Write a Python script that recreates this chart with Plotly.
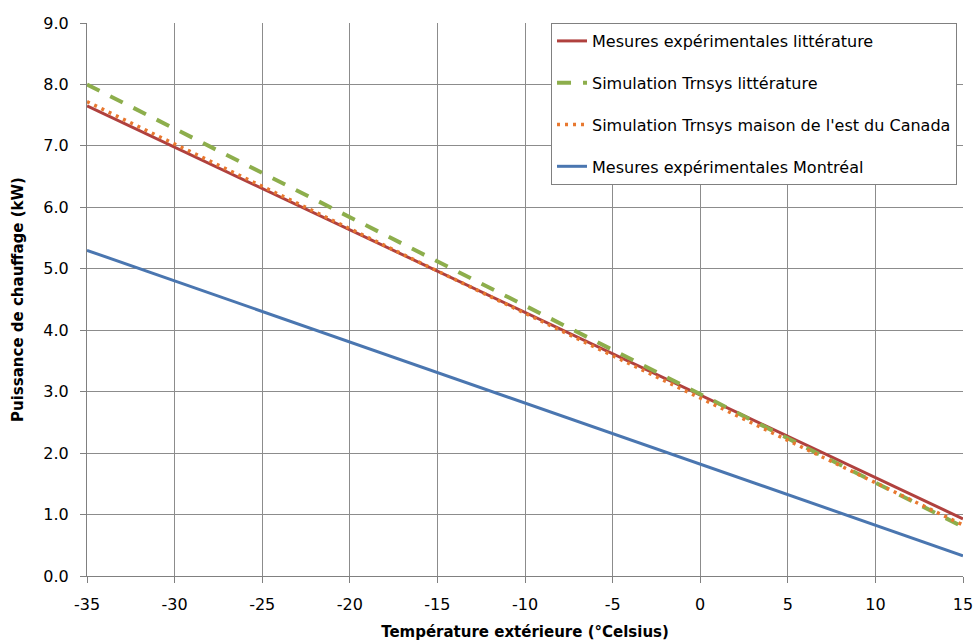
import plotly.graph_objects as go

temps = [-35, 15]
mesures_litt = [7.65, 0.93]
simul_litt = [8.0, 0.80]
simul_canada = [7.72, 0.83]
mesures_mtl = [5.30, 0.33]

names = [
    "Mesures expérimentales littérature",
    "Simulation Trnsys littérature",
    "Simulation Trnsys maison de l'est du Canada",
    "Mesures expérimentales Montréal",
]
colors = ["#B0413E", "#8DAE4C", "#E8782F", "#4A76B0"]
dashes = ["solid", "14px,12px", "3px,5px", "solid"]
widths = [3, 4, 3.5, 3]
series = [mesures_litt, simul_litt, simul_canada, mesures_mtl]

fig = go.Figure()
for i, (n, c, d, w, s) in enumerate(zip(names, colors, dashes, widths, series)):
    fig.add_trace(go.Scatter(
        x=temps, y=s, mode="lines", name=n, legendgroup=f"g{i}",
        line=dict(color=c, width=w, dash=d),
    ))

font_fam = "DejaVu Sans, Verdana, sans-serif"
fig.update_layout(
    width=977, height=641,
    margin=dict(l=87, r=14, t=23, b=65, autoexpand=False),
    paper_bgcolor="white", plot_bgcolor="white",
    font=dict(family=font_fam, size=16, color="#000000"),
    showlegend=True,
    legend=dict(
        x=0.5297, y=1, xanchor="left", yanchor="top",
        bgcolor="white", bordercolor="#808080", borderwidth=1,
        font=dict(family=font_fam, size=16, color="#000000"),
        traceorder="grouped", tracegroupgap=18,
    ),
    xaxis=dict(
        range=[-35, 15], tickmode="array",
        tickvals=list(range(-35, 16, 5)),
        ticktext=[str(v) for v in range(-35, 16, 5)],
        showgrid=True, gridcolor="#8C8C8C", gridwidth=1,
        showline=True, linecolor="#808080", linewidth=1, mirror=False,
        ticks="outside", ticklen=6, tickcolor="#808080",
        ticklabelstandoff=8, automargin=False,
        zeroline=False,
        title=dict(text="<b>Température extérieure (°Celsius)</b>", standoff=16,
                   font=dict(size=15)),
    ),
    yaxis=dict(
        range=[0, 9], tickmode="array",
        tickvals=[i for i in range(10)],
        ticktext=[f"{i:.1f}" for i in range(10)],
        showgrid=True, gridcolor="#8C8C8C", gridwidth=1,
        showline=True, linecolor="#808080", linewidth=1, mirror=False,
        ticks="outside", ticklen=6, tickcolor="#808080",
        ticklabelstandoff=8, automargin=False,
        zeroline=False,
        title=dict(text="<b>Puissance de chauffage (kW)</b>", standoff=16,
                   font=dict(size=15)),
    ),
)
fig.write_html("out.html")
